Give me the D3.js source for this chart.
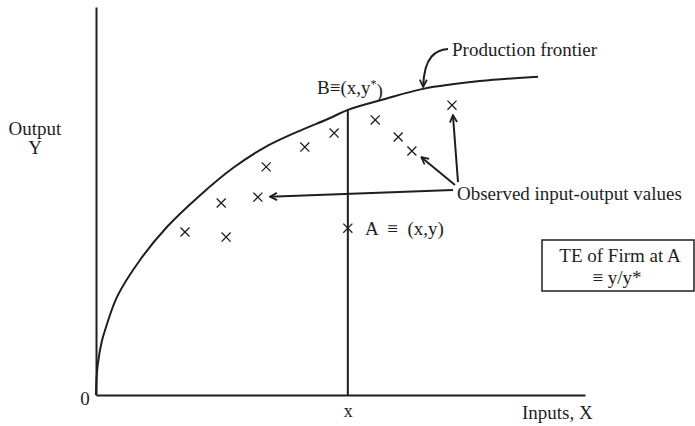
<!DOCTYPE html>
<html><head>
<meta charset="utf-8">
<script src="https://d3js.org/d3.v7.min.js"></script>
<style>
  body { margin: 0; background: #fff; }
  svg text { font-family: "Liberation Serif", "Times New Roman", serif; fill: #1e1e1e; }
</style>
</head>
<body>
<svg id="chart" width="695" height="426"></svg>
<script>

// Production frontier (input, output)
const frontierX = [0, 0.1, 0.4, 1.2, 1.8, 4.3, 9.0, 14.5, 21.3, 28.0, 34.6, 41.1, 47.9, 51.5, 59.1, 66.9, 78.5, 90.4];
const frontierY = [0, 3.9, 8.2, 13.9, 16.5, 25.3, 34.8, 43.3, 51.5, 58.5, 63.9, 67.8, 71.4, 73.5, 76.3, 78.9, 80.9, 82.0];

// Observed input-output values (the crosses)
const obsX = [18.2, 26.6, 25.6, 33.1, 34.8, 42.7, 48.7, 57.1, 61.8, 64.6, 72.8];
const obsY = [42.0, 40.7, 49.5, 51.0, 58.8, 63.9, 67.5, 70.9, 66.5, 62.9, 74.7];

// Firm A and its point on the frontier
const firmAX = 51.5;
const firmAY = 43.0;
const firmAYStar = 73.5;

const ink = "#1e1e1e";
const svg = d3.select("#chart");

const x = d3.scaleLinear().domain([0, 100]).range([96, 585]);
const y = d3.scaleLinear().domain([0, 100]).range([395, 7]);

// arrow head
svg.append("defs").append("marker")
   .attr("id", "head")
   .attr("viewBox", "0 0 10 10")
   .attr("refX", 9).attr("refY", 5)
   .attr("markerWidth", 9).attr("markerHeight", 9)
   .attr("markerUnits", "userSpaceOnUse")
   .attr("orient", "auto")
   .append("path")
   .attr("d", "M1,1 L9,5 L1,9")
   .attr("fill", "none")
   .attr("stroke", ink)
   .attr("stroke-width", 2);

// axes, no ticks
let yAxis = svg.append("g").attr("transform", "translate(" + x(0) + ",0)")
               .call(d3.axisLeft(y).tickValues([]).tickSizeOuter(0));
let xAxis = svg.append("g").attr("transform", "translate(0," + y(0) + ")")
               .call(d3.axisBottom(x).tickValues([firmAX]).tickFormat(() => "x")
                       .tickSize(0).tickPadding(9).tickSizeOuter(0));
svg.selectAll(".domain").attr("stroke", ink).attr("stroke-width", 2);
xAxis.selectAll("text").attr("font-size", 18).attr("font-family", "Liberation Serif").attr("fill", ink);

// frontier
const frontier = frontierX.map((v, i) => [v, frontierY[i]]);
svg.append("path").datum(frontier)
   .attr("d", d3.line().x(d => x(d[0])).y(d => y(d[1])).curve(d3.curveCatmullRom))
   .attr("fill", "none").attr("stroke", ink).attr("stroke-width", 2);

// vertical line through A up to B
svg.append("line")
   .attr("x1", x(firmAX)).attr("x2", x(firmAX))
   .attr("y1", y(0)).attr("y2", y(firmAYStar))
   .attr("stroke", ink).attr("stroke-width", 2);

// crosses
const cross = d3.symbol().type(d3.symbolTimes).size(55);
const pts = obsX.map((v, i) => [v, obsY[i]]).concat([[firmAX, firmAY]]);
svg.selectAll("path.obs").data(pts).join("path")
   .attr("class", "obs")
   .attr("d", cross)
   .attr("transform", d => "translate(" + x(d[0]) + "," + y(d[1]) + ")")
   .attr("fill", "none").attr("stroke", ink).attr("stroke-width", 1.3);

// arrows from the "Observed" label to three of the crosses
const arrowStarts = [[453, 190], [455, 185], [458, 182]];
const arrowTargets = [3, 9, 10];
arrowStarts.forEach((s, i) => {
  const mx = x(obsX[arrowTargets[i]]), my = y(obsY[arrowTargets[i]]);
  const dx = s[0] - mx, dy = s[1] - my, len = Math.hypot(dx, dy);
  svg.append("line")
     .attr("x1", s[0]).attr("y1", s[1])
     .attr("x2", mx + dx / len * 12).attr("y2", my + dy / len * 10)
     .attr("stroke", ink).attr("stroke-width", 2)
     .attr("marker-end", "url(#head)");
});

// curved arrow to the frontier
const fx = x(66.9), fy = y(78.9);
svg.append("path")
   .attr("d", "M448,49 C436,50 424,56 " + fx + "," + (fy - 2))
   .attr("fill", "none").attr("stroke", ink).attr("stroke-width", 2)
   .attr("marker-end", "url(#head)");

// labels
const fs = 19;
svg.append("text").attr("x", 452).attr("y", 49).attr("dy", "0.35em")
   .attr("font-size", fs).text("Production frontier");
svg.append("text").attr("x", 457).attr("y", 193).attr("dy", "0.35em")
   .attr("font-size", fs).text("Observed input-output values");

let bLabel = svg.append("text").attr("x", 317).attr("y", 87).attr("dy", "0.35em")
   .attr("font-size", fs);
bLabel.append("tspan").text("B\u2261(x,y");
bLabel.append("tspan").attr("dy", "-0.45em").attr("font-size", 12).text("*");
bLabel.append("tspan").attr("dy", "0.45em").text(")");

svg.append("text").attr("x", 365).attr("y", 228).attr("dy", "0.35em")
   .attr("font-size", fs).attr("xml:space", "preserve").style("white-space", "pre")
   .text("A  \u2261  (x,y)");

svg.append("text").attr("x", 35).attr("y", 128).attr("dy", "0.35em")
   .attr("text-anchor", "middle").attr("font-size", fs).text("Output");
svg.append("text").attr("x", 35).attr("y", 147).attr("dy", "0.35em")
   .attr("text-anchor", "middle").attr("font-size", fs).text("Y");

svg.append("text").attr("x", 85).attr("y", 398).attr("dy", "0.35em")
   .attr("text-anchor", "middle").attr("font-size", fs).text("0");
svg.append("text").attr("x", 522).attr("y", 412).attr("dy", "0.35em")
   .attr("font-size", fs).text("Inputs, X");

// TE box
svg.append("rect").attr("x", 542).attr("y", 240).attr("width", 152).attr("height", 51)
   .attr("fill", "none").attr("stroke", ink).attr("stroke-width", 1.5);
svg.append("text").attr("x", 620).attr("y", 255).attr("dy", "0.35em")
   .attr("text-anchor", "middle").attr("font-size", fs).text("TE of Firm at A");
svg.append("text").attr("x", 617).attr("y", 277).attr("dy", "0.35em")
   .attr("text-anchor", "middle").attr("font-size", fs).text("\u2261 y/y*");

</script>
</body>
</html>
